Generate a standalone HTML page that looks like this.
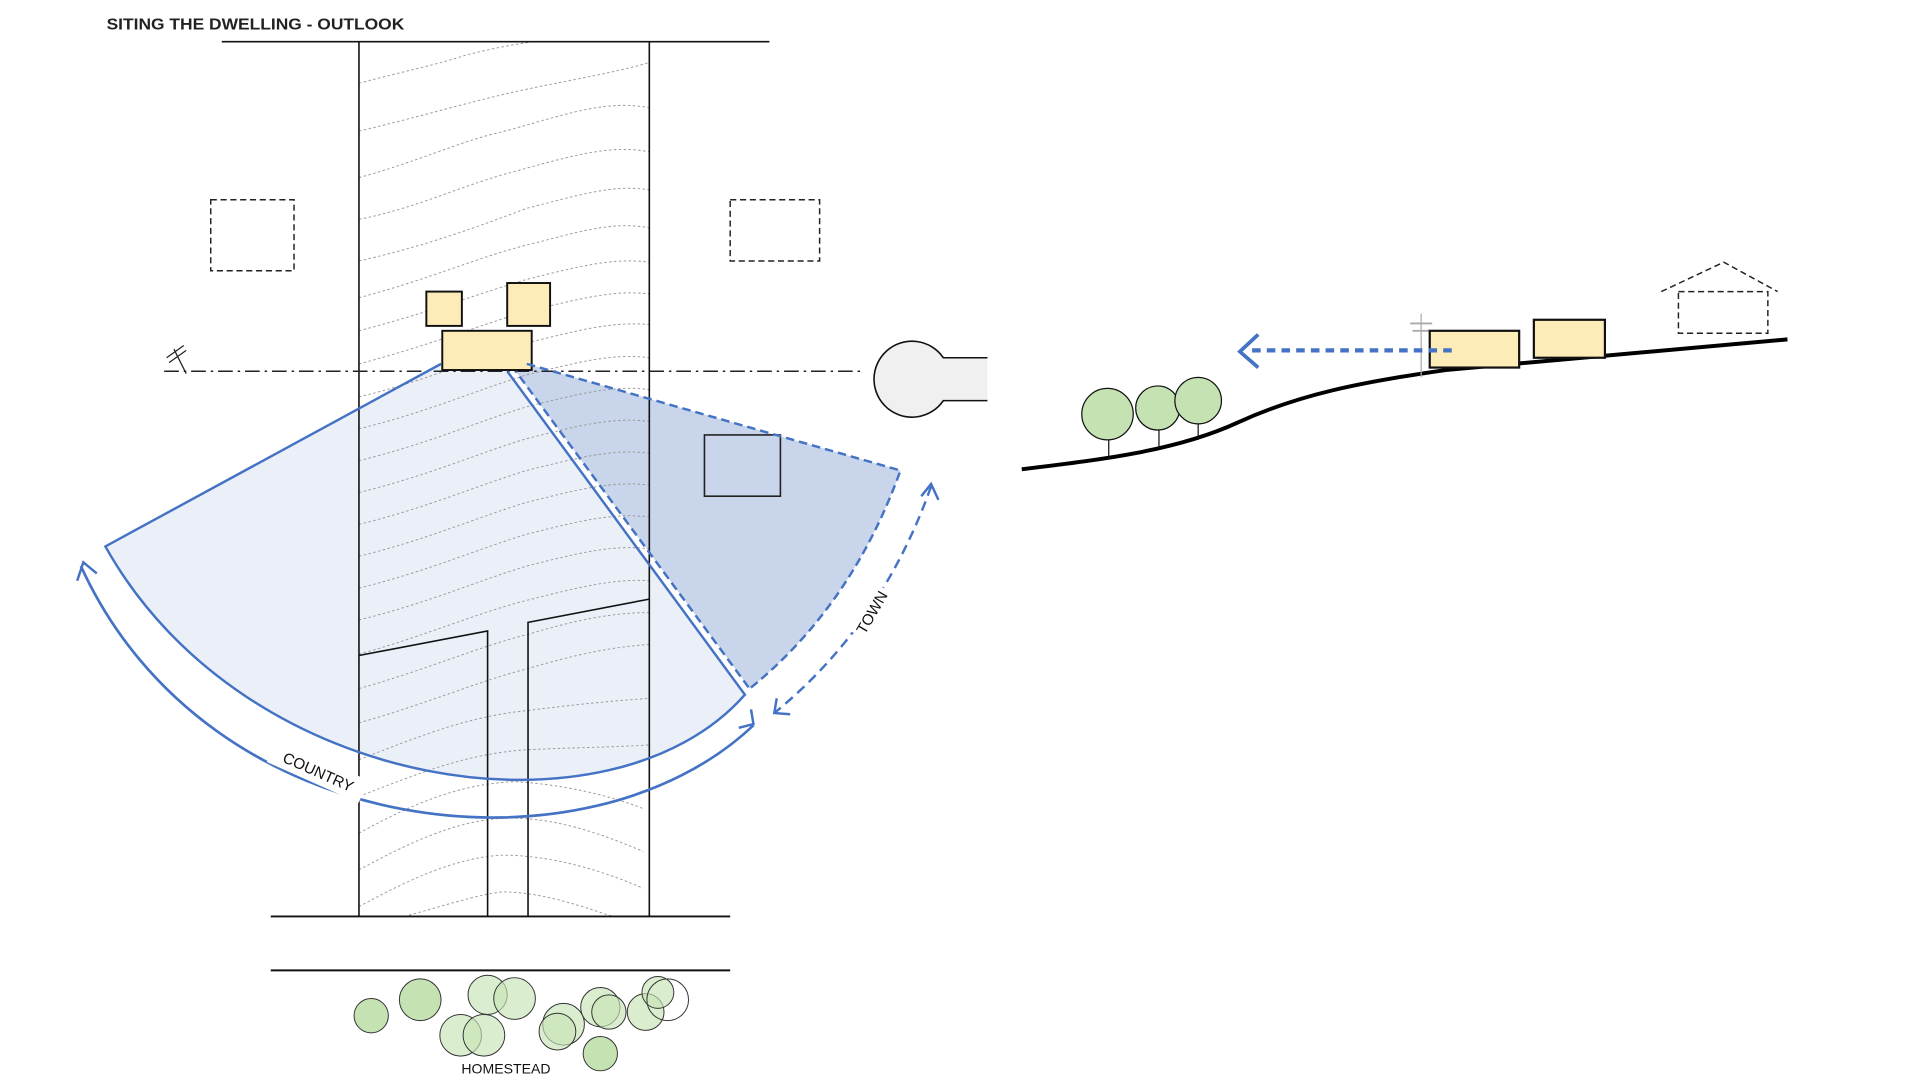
<!DOCTYPE html>
<html><head><meta charset="utf-8"><style>
html,body{margin:0;padding:0;background:#fff;}
svg{display:block;}
text{font-family:"Liberation Sans",sans-serif;}
</style></head><body>
<svg width="1921" height="1080" viewBox="0 0 1568 881.5" preserveAspectRatio="none" xmlns="http://www.w3.org/2000/svg">
<rect width="1568" height="882" fill="#fff"/>
<text x="87" y="24" font-size="12.5" font-weight="bold" fill="#222" textLength="243" lengthAdjust="spacingAndGlyphs">SITING THE DWELLING - OUTLOOK</text>

<path d="M360,297 L86,446 C200,650 500,690 608,567 L414,303 Z" fill="#ebf0f8"/>
<path d="M430,297 L735,384 Q695,495 612,562 L420,302 Z" fill="#c8d5ea"/>

<g fill="none" stroke="#999" stroke-width="0.8" stroke-dasharray="2 2">
<path d="M293,68 C330,58 360,52 380,45 C400,40 420,36 436,34"/>
<path d="M293,107 C340,96 380,84 420,75 C460,66 500,60 530,51"/>
<path d="M293,145 C340,132 370,118 400,110 C450,98 490,80 530,88"/>
<path d="M293,179 C340,170 380,150 420,140 C470,126 500,118 530,124"/>
<path d="M293,213 C350,200 390,185 430,170 C470,160 500,150 530,155"/>
<path d="M293,243 C350,228 390,210 430,200 C470,190 500,180 530,186"/>
<path d="M293,270 C350,255 390,240 430,228 C470,218 500,210 530,214"/>
<path d="M293,297 C350,282 390,266 430,254 C470,245 500,236 530,240"/>
<path d="M293,324 C350,310 390,292 430,280 C470,270 500,262 530,265"/>
<path d="M293,350 C350,336 390,318 430,306 C470,296 500,288 530,292"/>
<path d="M293,376 C350,362 390,344 430,332 C470,322 500,314 530,318"/>
<path d="M293,402 C350,388 390,370 430,358 C470,348 500,340 530,344"/>
<path d="M293,428 C350,414 390,396 430,384 C470,374 500,366 530,370"/>
<path d="M293,454 C350,440 390,422 430,410 C470,400 500,392 530,396"/>
<path d="M293,480 C350,466 390,448 430,436 C470,426 500,418 530,422"/>
<path d="M293,506 C350,492 390,474 430,462 C470,452 500,444 530,448"/>
<path d="M293,534 C350,518 390,500 430,490 C470,480 500,472 530,474"/>
<path d="M293,562 C350,546 390,528 430,518 C470,506 500,500 530,500"/>
<path d="M293,590 C350,574 390,556 430,546 C470,534 500,528 530,526"/>
<path d="M293,620 C340,602 380,585 430,580 C470,575 500,572 530,570"/>
<path d="M293,650 C340,632 380,615 430,612 C470,610 500,610 530,608"/>
<path d="M293,680 C330,660 370,640 420,638 C460,640 500,650 525,660"/>
<path d="M293,710 C330,690 370,670 410,668 C450,666 490,680 525,695"/>
<path d="M293,740 C330,720 370,700 410,698 C450,698 490,710 525,725"/>
<path d="M330,748 C360,740 390,730 410,728 C440,728 470,738 500,748"/>
</g>

<g fill="none" stroke="#111" stroke-width="1.3">
<line x1="181" y1="34" x2="628" y2="34"/>
<line x1="293" y1="34" x2="293" y2="748"/>
<line x1="530" y1="34" x2="530" y2="748"/>
<line x1="221" y1="748" x2="596" y2="748" stroke-width="1.6"/>
<line x1="221" y1="792" x2="596" y2="792" stroke-width="1.6"/>
<polyline points="293,535 398,515 398,748"/>
<polyline points="431,748 431,508 530,489"/>
</g>

<g fill="none" stroke="#222" stroke-width="1.2" stroke-dasharray="5 3">
<rect x="172" y="163" width="68" height="58"/>
<rect x="596" y="163" width="73" height="50"/>
</g>

<line x1="134" y1="303" x2="703" y2="303" stroke="#222" stroke-width="1.2" stroke-dasharray="12 4 2 4"/>
<g stroke="#222" stroke-width="1" fill="none">
<line x1="142" y1="285" x2="152" y2="305"/>
<line x1="136" y1="292" x2="150" y2="282"/>
<line x1="138" y1="296" x2="152" y2="286"/>
</g>

<path d="M806,292 L770,292 A31,31 0 1 0 770,327 L806,327" fill="#f0f0f0" stroke="#111" stroke-width="1.3"/>

<g fill="#fdecb8" stroke="#111" stroke-width="1.6">
<rect x="348" y="238" width="29" height="28"/>
<rect x="414" y="231" width="35" height="35"/>
<rect x="361" y="270" width="73" height="32"/>
</g>

<rect x="575" y="355" width="62" height="50" fill="none" stroke="#222" stroke-width="1.3"/>

<path d="M360,297 L86,446 C200,650 500,690 608,567 L414,303" fill="none" stroke="#4472c4" stroke-width="2"/>
<path d="M430,297 L735,384 Q695,495 612,562 M611,561 L421,303" fill="none" stroke="#4472c4" stroke-width="2" stroke-dasharray="7 4"/>

<path d="M66,462 C170,690 480,720 615,592" fill="none" stroke="#4472c4" stroke-width="2.2"/>
<polyline points="63,474 68,459 79,468" fill="none" stroke="#4472c4" stroke-width="2"/>
<polyline points="603,594 615,591 613,579" fill="none" stroke="#4472c4" stroke-width="2"/>
<rect x="-40" y="-11" width="82" height="20" fill="#fff" transform="translate(258,630) rotate(24)"/>
<text x="0" y="0" font-size="12.5" fill="#111" text-anchor="middle" transform="translate(258,634) rotate(24)">COUNTRY</text>

<path d="M760,397 Q720,510 632,582" fill="none" stroke="#4472c4" stroke-width="2" stroke-dasharray="8 5"/>
<polyline points="752,405 760,395 766,408" fill="none" stroke="#4472c4" stroke-width="2"/>
<polyline points="634,570 632,582 645,583" fill="none" stroke="#4472c4" stroke-width="2"/>
<rect x="-22" y="-10" width="44" height="16" fill="#fff" transform="translate(712,500) rotate(-60)"/>
<text x="0" y="4" font-size="12.5" fill="#111" text-anchor="middle" transform="translate(712,500) rotate(-60)">TOWN</text>

<g stroke="#333" stroke-width="0.8">
<circle cx="398" cy="812" r="16" fill="#c8e3b6" fill-opacity="0.65"/>
<circle cx="420" cy="815" r="17" fill="#c8e3b6" fill-opacity="0.65"/>
<circle cx="376" cy="845" r="17" fill="#c8e3b6" fill-opacity="0.65"/>
<circle cx="395" cy="845" r="17" fill="#c8e3b6" fill-opacity="0.65"/>
<circle cx="460" cy="836" r="17" fill="#c8e3b6" fill-opacity="0.65"/>
<circle cx="455" cy="842" r="15" fill="#c8e3b6" fill-opacity="0.65"/>
<circle cx="490" cy="822" r="16" fill="#c8e3b6" fill-opacity="0.65"/>
<circle cx="497" cy="826" r="14" fill="#c8e3b6" fill-opacity="0.65"/>
<circle cx="527" cy="826" r="15" fill="#c8e3b6" fill-opacity="0.65"/>
<circle cx="537" cy="810" r="13" fill="#c8e3b6" fill-opacity="0.65"/>
<circle cx="545" cy="816" r="17" fill="none"/>
<circle cx="303" cy="829" r="14" fill="#c5e2b3"/>
<circle cx="343" cy="816" r="17" fill="#c5e2b3"/>
<circle cx="490" cy="860" r="14" fill="#c5e2b3"/>
</g>
<text x="413" y="876" font-size="11.5" fill="#111" text-anchor="middle">HOMESTEAD</text>

<path d="M834,383 C900,375 960,368 1010,345 C1060,322 1110,312 1180,302 L1459,277" fill="none" stroke="#000" stroke-width="3.2"/>
<g stroke="#111" stroke-width="1">
<line x1="905" y1="355" x2="905" y2="375"/>
<line x1="946" y1="347" x2="946" y2="366"/>
<line x1="978" y1="343" x2="978" y2="359"/>
<line x1="1160" y1="256" x2="1160" y2="308" stroke="#aaa"/>
<line x1="1151" y1="264" x2="1169" y2="264" stroke="#aaa" stroke-width="1.5"/>
<line x1="1153" y1="270" x2="1167" y2="270" stroke="#aaa" stroke-width="1.5"/>
<ellipse cx="904" cy="338" rx="21" ry="21" fill="#c5e2b3"/>
<ellipse cx="945" cy="333" rx="18" ry="18" fill="#c5e2b3"/>
<ellipse cx="978" cy="327" rx="19" ry="19" fill="#c5e2b3"/>
</g>
<g fill="#fdecb8" stroke="#111" stroke-width="1.8">
<rect x="1167" y="270" width="73" height="30"/>
<rect x="1252" y="261" width="58" height="31"/>
</g>
<line x1="1185" y1="286" x2="1022" y2="286" stroke="#4472c4" stroke-width="3.5" stroke-dasharray="7 5"/>
<polyline points="1027,273 1012,287 1027,300" fill="none" stroke="#4472c4" stroke-width="3"/>
<g fill="none" stroke="#222" stroke-width="1.2" stroke-dasharray="5 3">
<rect x="1370" y="238" width="73" height="34"/>
<polyline points="1356,238 1407,214 1451,238"/>
</g>
</svg>
</body></html>
